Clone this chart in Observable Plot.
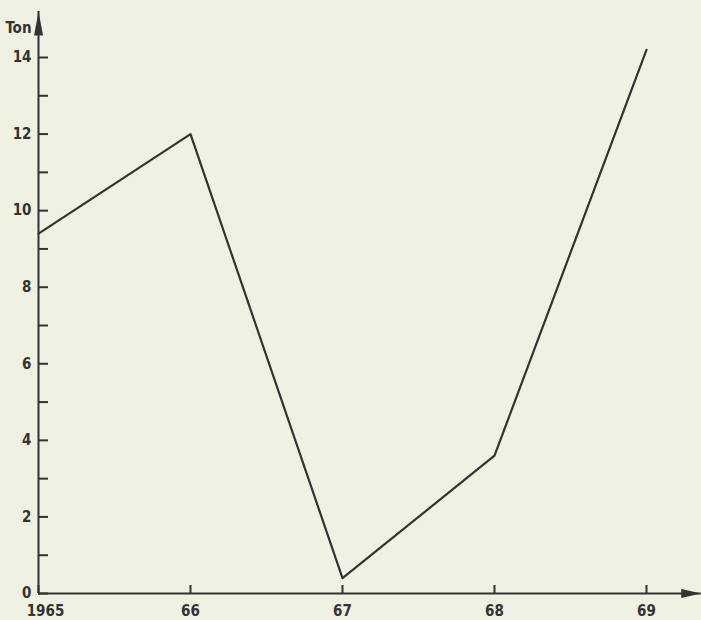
<!DOCTYPE html>
<html>
<head>
<meta charset="utf-8">
<script src="https://cdn.jsdelivr.net/npm/d3@7"></script>
<script src="https://cdn.jsdelivr.net/npm/@observablehq/plot@0.6"></script>
<style>
  html, body { margin: 0; padding: 0; background: #eff1e2; }
  #chart svg { display: block; }
</style>
</head>
<body>
<div id="chart"></div>
<script>
// Data
const years = [1965, 1966, 1967, 1968, 1969];
const tons = [9.4, 12.0, 0.4, 3.6, 14.2];

// Axis ticks and labels
const xTicks = [1965, 1966, 1967, 1968, 1969];
const xTickLabels = ["1965", "66", "67", "68", "69"];
const yTicks = [0, 2, 4, 6, 8, 10, 12, 14];
const yMinorTicks = [1, 3, 5, 7, 9, 11, 13];
const yTitle = "Ton";

// Axis extents (data units) where the arrowheads sit
const xAxisStart = 1965;
const xAxisEnd = 1969.36;
const yAxisEnd = 15.2;

const data = years.map((y, i) => ({year: y, ton: tons[i]}));
const labelOf = d => xTickLabels[xTicks.indexOf(d)];
const ink = "#333";
const fs = 15;

const upArrow = {draw(ctx) { ctx.moveTo(0, 0); ctx.lineTo(-4.5, 24); ctx.lineTo(4.5, 24); ctx.closePath(); }};
const rightArrow = {draw(ctx) { ctx.moveTo(0, 0); ctx.lineTo(-20, -4.5); ctx.lineTo(-20, 4.5); ctx.closePath(); }};

const chart = Plot.plot({
  width: 701,
  height: 620,
  marginLeft: 38,
  marginRight: 55,
  marginTop: 57,
  marginBottom: 27,
  style: {background: "#eff1e2", color: ink, fontFamily: "'DejaVu Sans Condensed', sans-serif", fontSize: "15px", fontWeight: "bold"},
  x: {domain: [1965, 1969]},
  y: {domain: [0, 14]},
  marks: [
    // axis lines
    Plot.ruleY([0], {x1: xAxisStart, x2: xAxisEnd, stroke: ink, strokeWidth: 2}),
    Plot.ruleX([xAxisStart], {y1: 0, y2: yAxisEnd, stroke: ink, strokeWidth: 2}),
    Plot.dot([{x: xAxisStart, y: yAxisEnd}], {x: "x", y: "y", symbol: upArrow, fill: ink, stroke: "none"}),
    Plot.dot([{x: xAxisEnd, y: 0}], {x: "x", y: "y", symbol: rightArrow, fill: ink, stroke: "none"}),
    // y ticks (inward) and labels
    Plot.axisY([...yTicks, ...yMinorTicks], {anchor: "left", tickSize: -10, tickFormat: () => "", stroke: ink, strokeWidth: 2, label: null}),
    Plot.axisY(yTicks, {anchor: "left", tickSize: 0, tickPadding: 7, fill: ink, fontSize: fs, label: null}),
    // x ticks (inward) and labels
    Plot.axisX(xTicks, {anchor: "bottom", tickSize: -8, tickFormat: () => "", stroke: ink, strokeWidth: 2, label: null}),
    Plot.axisX(xTicks.slice(0, 1), {anchor: "bottom", tickSize: 0, tickPadding: 12, dx: 7, tickFormat: labelOf, fill: ink, fontSize: fs, label: null}),
    Plot.axisX(xTicks.slice(1), {anchor: "bottom", tickSize: 0, tickPadding: 12, tickFormat: labelOf, fill: ink, fontSize: fs, label: null}),
    // y title
    Plot.text([yTitle], {frameAnchor: "top-left", text: d => d, dx: -7, dy: -35, textAnchor: "end", fill: ink, fontSize: fs}),
    // the series
    Plot.line(data, {x: "year", y: "ton", stroke: ink, strokeWidth: 2.2})
  ]
});
document.getElementById("chart").append(chart);
</script>
</body>
</html>
